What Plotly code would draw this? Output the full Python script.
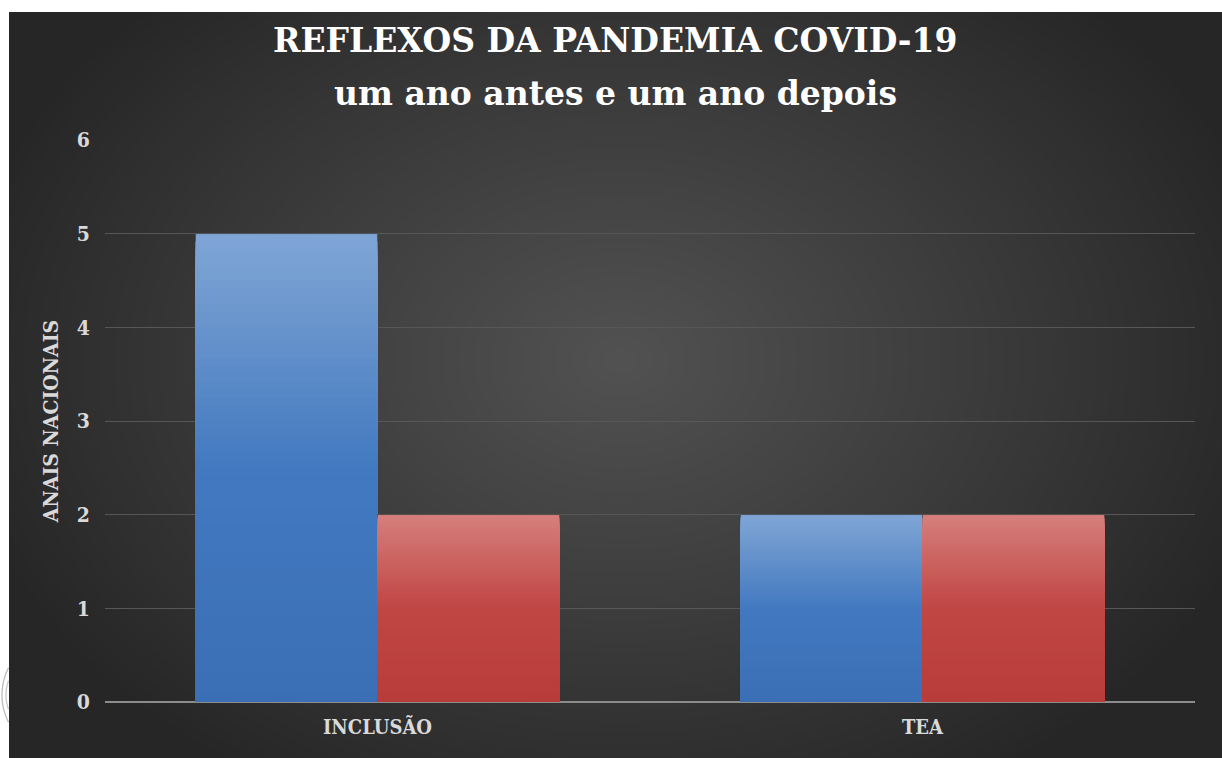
import base64
import math
import struct
import zlib

import numpy as np
import plotly.graph_objects as go

# ---------------- data ----------------
categories = ["INCLUSÃO", "TEA"]
series_antes = [5, 2]     # blue series
series_depois = [2, 2]    # red series
y_ticks = [0, 1, 2, 3, 4, 5, 6]

title_line1 = "REFLEXOS DA PANDEMIA COVID-19"
title_line2 = "um ano antes e um ano depois"
y_title = "ANAIS NACIONAIS"

# ---------------- figure geometry ----------------
W, H = 1222, 758
ML, MR, MT, MB = 105, 27, 140, 56
PW, PH = W - ML - MR, H - MT - MB


def py_to_paper(py):
    return (H - MB - py) / PH


def px_to_paper(px):
    return (px - ML) / PW


# ---------------- background (radial gradient PNG) ----------------
def make_png(arr):
    h, w, _ = arr.shape
    raw = b"".join(b"\x00" + arr[r].tobytes() for r in range(h))

    def chunk(tag, data):
        c = struct.pack(">I", len(data)) + tag + data
        return c + struct.pack(">I", zlib.crc32(tag + data) & 0xFFFFFFFF)

    png = b"\x89PNG\r\n\x1a\n"
    png += chunk(b"IHDR", struct.pack(">IIBBBBB", w, h, 8, 2, 0, 0, 0))
    png += chunk(b"IDAT", zlib.compress(raw, 9))
    png += chunk(b"IEND", b"")
    return png


yy, xx = np.mgrid[0:H, 0:W].astype(float)
cx, cy = 620.0, 360.0
d = np.sqrt(((xx - cx) / 680.0) ** 2 + ((yy - cy) / 500.0) ** 2)
d = np.clip(d, 0, 1)
c_in, c_out = 82.0, 38.0
val = c_out + (c_in - c_out) * (1 - d) ** 0.95
img = np.stack([val, val, val], axis=-1)
# white border (top / left) like the original screenshot
img[:12, :, :] = 255
img[:, :9, :] = 255
img = np.clip(img, 0, 255).astype(np.uint8)
bg_uri = "data:image/png;base64," + base64.b64encode(make_png(img)).decode()


# decorative circle arcs in the white left border (only the part left of x=9 px)
def arc_path(cxp, cyp, r, xmax=8.5, n=40):
    c = max(-1.0, min(1.0, (xmax - cxp) / r))
    a0 = math.acos(c)
    pts = []
    for k in range(n + 1):
        a = a0 + (2 * math.pi - 2 * a0) * k / n
        px = cxp + r * math.cos(a)
        py = cyp - r * math.sin(a)
        pts.append((px_to_paper(px), py_to_paper(py)))
    return "M " + " L ".join(f"{x:.5f},{y:.5f}" for x, y in pts)


# ---------------- bars with vertical gradients ----------------
def lerp_color(stops, t):
    for (t0, c0), (t1, c1) in zip(stops[:-1], stops[1:]):
        if t0 <= t <= t1:
            f = (t - t0) / (t1 - t0) if t1 > t0 else 0
            c = [round(a + (b - a) * f) for a, b in zip(c0, c1)]
            return "rgb({},{},{})".format(*c)
    c = stops[-1][1]
    return "rgb({},{},{})".format(*c)


blue_stops = [(0.0, (59, 111, 181)), (0.5, (66, 121, 192)), (0.8, (104, 148, 204)), (1.0, (128, 166, 214))]
red_stops = [(0.0, (184, 60, 58)), (0.5, (192, 70, 68)), (0.8, (205, 104, 101)), (1.0, (214, 128, 125))]

N = 60
fig = go.Figure()
for name, vals, stops, grp in [
    ("antes", series_antes, blue_stops, "a"),
    ("depois", series_depois, red_stops, "b"),
]:
    # layered bars from the baseline: each later (shorter) bar covers the lower part
    for i in range(N):
        frac = (N - i) / N
        t = (N - i - 0.5) / N
        fig.add_trace(
            go.Bar(
                x=categories,
                y=[v * frac for v in vals],
                marker=dict(
                    color=lerp_color(stops, t),
                    line=dict(width=1 if i == 0 else 0, color="rgba(40,40,40,0.35)"),
                ),
                offsetgroup=grp,
                showlegend=False,
                hoverinfo="skip",
                name=name,
            )
        )

serif = "DejaVu Serif, Liberation Serif, serif"
cond = "DejaVu Serif Condensed, DejaVu Serif, serif"

fig.update_layout(
    width=W,
    height=H,
    margin=dict(l=ML, r=MR, t=MT, b=MB, autoexpand=False),
    paper_bgcolor="white",
    plot_bgcolor="rgba(0,0,0,0)",
    barmode="group",
    bargap=0.332,
    bargroupgap=0,
    showlegend=False,
    annotations=[
        dict(
            text="<b>" + title_line1 + "</b>",
            xref="paper", yref="paper",
            x=px_to_paper(615), y=py_to_paper(41),
            xanchor="center", yanchor="middle",
            showarrow=False,
            font=dict(family=serif, size=33, color="white"),
        ),
        dict(
            text="<b>" + title_line2 + "</b>",
            xref="paper", yref="paper",
            x=px_to_paper(615), y=py_to_paper(93),
            xanchor="center", yanchor="middle",
            showarrow=False,
            font=dict(family=serif, size=33, color="white"),
        ),
    ],
    shapes=[
        dict(type="path", xref="paper", yref="paper", path=arc_path(62, 695, 60),
             line=dict(color="#bdbdbd", width=1.3), layer="above"),
        dict(type="path", xref="paper", yref="paper", path=arc_path(48, 695, 42),
             line=dict(color="#c8c8c8", width=1.3), layer="above"),
    ],
    images=[
        dict(
            source=bg_uri,
            xref="paper",
            yref="paper",
            x=-ML / PW,
            y=1 + MT / PH,
            sizex=W / PW,
            sizey=H / PH,
            xanchor="left",
            yanchor="top",
            sizing="stretch",
            layer="below",
        )
    ],
    xaxis=dict(
        showgrid=False,
        showline=False,
        ticks="",
        tickfont=dict(family=cond, size=20, color="#d9d9d9", weight="bold"),
        ticklabelstandoff=11,
    ),
    yaxis=dict(
        range=[0, 6],
        tickvals=y_ticks,
        showgrid=True,
        gridcolor="#575757",
        gridwidth=1,
        zeroline=True,
        zerolinecolor="#8c8c8c",
        zerolinewidth=2,
        showline=False,
        ticks="",
        ticklabelstandoff=14,
        tickfont=dict(family=cond, size=21, color="#d9d9d9", weight="bold"),
        title=dict(
            text=y_title,
            font=dict(family=cond, size=21, color="#d9d9d9", weight="bold"),
            standoff=12,
        ),
    ),
)

fig.write_html(
    "out.html",
    config={"displayModeBar": False},
    post_script="document.body.style.margin='0';document.body.style.padding='0';",
)
